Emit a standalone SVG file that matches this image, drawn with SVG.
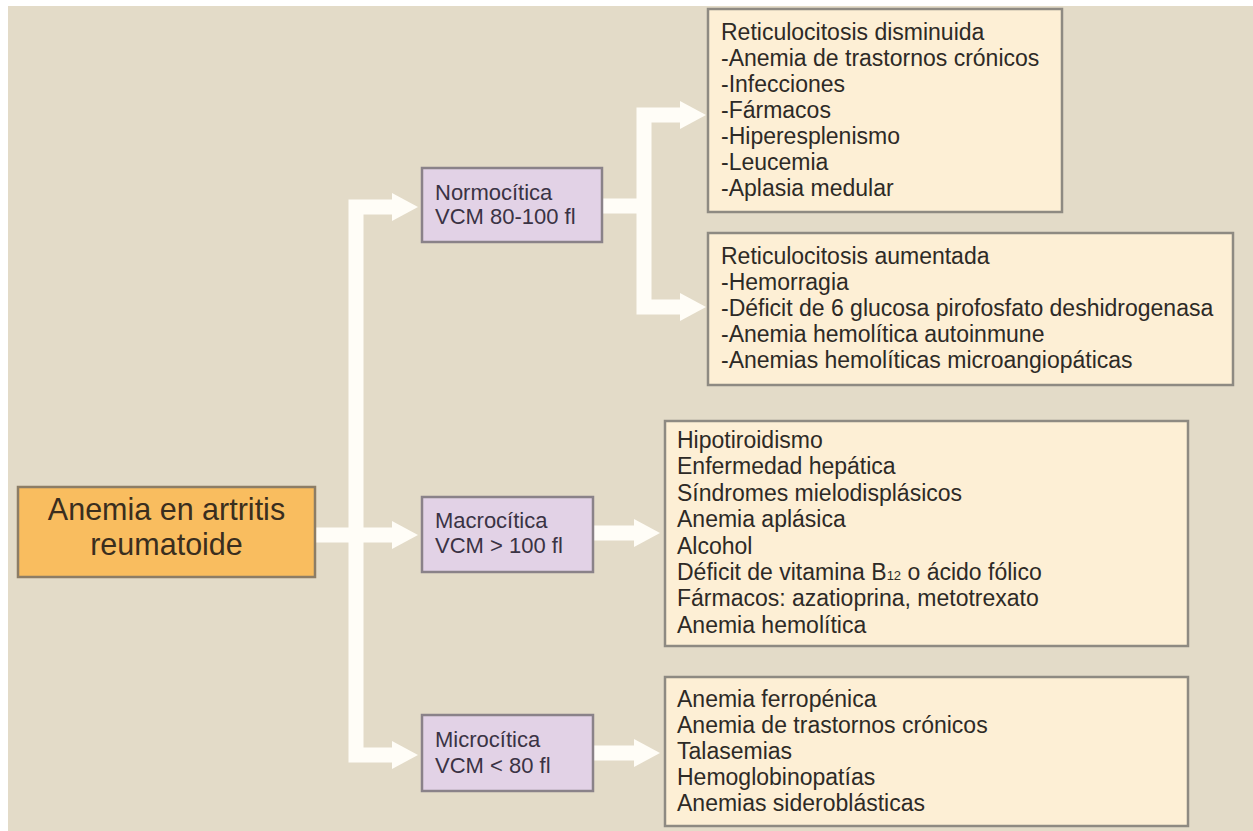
<svg xmlns="http://www.w3.org/2000/svg" width="1253" height="831" viewBox="0 0 1253 831">
<defs>
<style>
.bg{fill:#e3dbc8}
.root rect{fill:#f9bd5f;stroke:#8c7d66;stroke-width:2.5}
.mid rect{fill:#e2d2e6;stroke:#8a8289;stroke-width:2.5}
.leaf rect{fill:#fdefd5;stroke:#8e8a82;stroke-width:2.5}
text{font-family:'Liberation Sans',Arial,sans-serif}
.root text{font-size:30.5px;fill:#3a2e1e;text-anchor:middle}
.mid text{font-size:22px;fill:#3a3344}
.leaf text{font-size:23px;fill:#2d2a26}
.conn path{fill:none;stroke:#fffdf7;stroke-width:15;stroke-linejoin:miter}
.sub{font-size:13px}
</style>
<marker id="ah" viewBox="0 0 26 28" refX="1" refY="14" markerWidth="26" markerHeight="28" markerUnits="userSpaceOnUse" orient="auto"><path d="M0,0 L26,14 L0,28 Z" fill="#fffdf7"/></marker>
</defs>
<rect class="bg" x="8" y="6" width="1245" height="825"/>
<g class="conn">
<path d="M316,535 H393" marker-end="url(#ah)"/>
<path d="M356,535 V207 H393" marker-end="url(#ah)"/>
<path d="M356,535 V755 H393" marker-end="url(#ah)"/>
<path d="M602,206 H644"/>
<path d="M644,206 V115 H681" marker-end="url(#ah)"/>
<path d="M644,206 V307 H681" marker-end="url(#ah)"/>
<path d="M593,533 H635" marker-end="url(#ah)"/>
<path d="M593,753 H635" marker-end="url(#ah)"/>
</g>
<g id="root" class="root">
<rect x="18" y="487" width="297" height="90"/>
<text x="166.5" y="520">Anemia en artritis</text>
<text x="166.5" y="555">reumatoide</text>
</g>
<g id="normocitica" class="mid">
<rect x="422" y="168" width="180" height="74"/>
<text x="435" y="200">Normocítica</text>
<text x="435" y="224">VCM 80-100 fl</text>
</g>
<g id="macrocitica" class="mid">
<rect x="422" y="497" width="171" height="75"/>
<text x="435" y="528">Macrocítica</text>
<text x="435" y="553">VCM &gt; 100 fl</text>
</g>
<g id="microcitica" class="mid">
<rect x="422" y="715" width="171" height="76"/>
<text x="435" y="747">Microcítica</text>
<text x="435" y="773">VCM &lt; 80 fl</text>
</g>
<g id="reticulocitosis-disminuida" class="leaf">
<rect x="708" y="9" width="354" height="203"/>
<text x="721" y="40">Reticulocitosis disminuida</text>
<text x="721" y="66">-Anemia de trastornos crónicos</text>
<text x="721" y="92">-Infecciones</text>
<text x="721" y="118">-Fármacos</text>
<text x="721" y="144">-Hiperesplenismo</text>
<text x="721" y="170">-Leucemia</text>
<text x="721" y="196">-Aplasia medular</text>
</g>
<g id="reticulocitosis-aumentada" class="leaf">
<rect x="708" y="233" width="525" height="152"/>
<text x="721" y="264">Reticulocitosis aumentada</text>
<text x="721" y="290">-Hemorragia</text>
<text x="721" y="316">-Déficit de 6 glucosa pirofosfato deshidrogenasa</text>
<text x="721" y="342">-Anemia hemolítica autoinmune</text>
<text x="721" y="368">-Anemias hemolíticas microangiopáticas</text>
</g>
<g id="causas-macrociticas" class="leaf">
<rect x="665" y="421" width="523" height="225"/>
<text x="677" y="448">Hipotiroidismo</text>
<text x="677" y="474">Enfermedad hepática</text>
<text x="677" y="501">Síndromes mielodisplásicos</text>
<text x="677" y="527">Anemia aplásica</text>
<text x="677" y="554">Alcohol</text>
<text x="677" y="580">Déficit de vitamina B<tspan class="sub">12</tspan> o ácido fólico</text>
<text x="677" y="606">Fármacos: azatioprina, metotrexato</text>
<text x="677" y="633">Anemia hemolítica</text>
</g>
<g id="causas-microciticas" class="leaf">
<rect x="665" y="677" width="523" height="149"/>
<text x="677" y="707">Anemia ferropénica</text>
<text x="677" y="733">Anemia de trastornos crónicos</text>
<text x="677" y="759">Talasemias</text>
<text x="677" y="785">Hemoglobinopatías</text>
<text x="677" y="811">Anemias sideroblásticas</text>
</g>
</svg>
